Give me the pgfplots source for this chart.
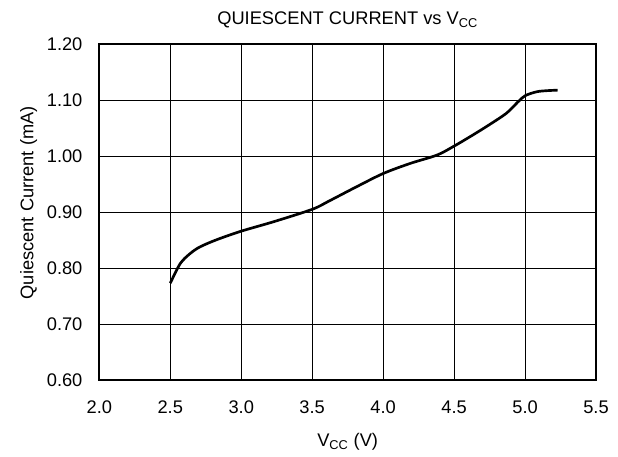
\documentclass[border=0pt]{standalone}
\usepackage{fontspec}
\setmainfont{Liberation Sans}
\usepackage{pgfplots}
\pgfplotsset{compat=1.18}
\usetikzlibrary{calc}

\begin{document}
\fontsize{13.7}{16}\selectfont
\begin{tikzpicture}
  % page = 618x457 px at 0.75pt/px, axis lower-left at origin
  \path[use as bounding box] (-74.5pt,-57.75pt) rectangle (389pt,285pt);
  \begin{axis}[
      scale only axis,
      width=372.5pt, height=251.8pt,
      xmin=2.0, xmax=5.5, ymin=0.6, ymax=1.2,
      xtick={2.0,2.5,...,5.5},
      ytick={0.6,0.7,...,1.2},
      xticklabels={2.0,2.5,3.0,3.5,4.0,4.5,5.0,5.5},
      yticklabels={0.60,0.70,0.80,0.90,1.00,1.10,1.20},
      major tick length=0pt,
      grid=major,
      major grid style={black, line width=0.75pt},
      axis line style={black, line width=1.5pt},
      /pgf/number format/assume math mode=true,
      xticklabel style={inner sep=0pt, anchor=north, yshift=-15.5pt},
      yticklabel style={inner sep=0pt, anchor=east, xshift=-12.5pt},
      clip=false,
    ]
    \addplot[black, line width=2pt, smooth] coordinates {
      (2.50,0.773) (2.57,0.808) (2.64,0.826) (2.71,0.838) (2.83,0.851)
      (3.00,0.866) (3.23,0.883) (3.50,0.905) (3.62,0.920) (3.81,0.945)
      (4.00,0.969) (4.19,0.987) (4.38,1.002) (4.50,1.018) (4.63,1.0375)
      (4.75,1.0565) (4.87,1.077) (4.95,1.097) (5.00,1.108) (5.08,1.115)
      (5.15,1.117) (5.23,1.118)
    };
    % title and labels
    \node[anchor=base, inner sep=0pt] at ([yshift=14.5pt]rel axis cs:0.5,1)
      {QUIESCENT CURRENT vs V\textsubscript{CC}};
    \node[anchor=base, inner sep=0pt] at ([yshift=-50pt]rel axis cs:0.5,0)
      {V\textsubscript{CC} (V)};
    \node[anchor=base, inner sep=0pt, rotate=90] at ([xshift=-49.5pt, yshift=7pt]rel axis cs:0,0.5)
      {Quiescent Current (mA)};
  \end{axis}
\end{tikzpicture}
\end{document}
